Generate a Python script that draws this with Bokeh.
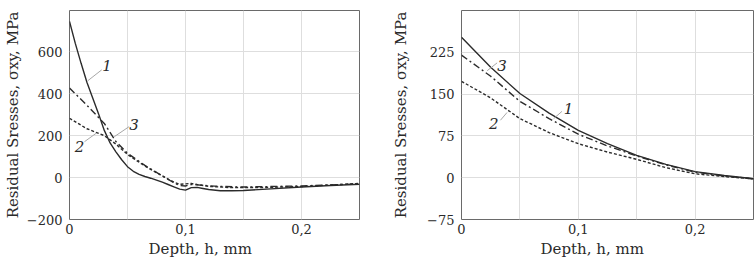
from bokeh.plotting import figure
from bokeh.layouts import row
from bokeh.models import Range1d, FixedTicker, CustomJSTickFormatter, Title
from bokeh.core.properties import value
from bokeh.embed import file_html
from bokeh.resources import INLINE

FONT = "DejaVu Serif"

# ---------------- data: left panel ----------------
L_h1 = [0, 0.005, 0.01, 0.015, 0.02, 0.025, 0.03, 0.035, 0.04, 0.045, 0.05, 0.055, 0.06, 0.065,
        0.07, 0.075, 0.08, 0.085, 0.09, 0.095, 0.1, 0.105, 0.11, 0.115, 0.12, 0.13, 0.14, 0.15,
        0.17, 0.2, 0.225, 0.25]
L_s1 = [745, 640, 545, 455, 380, 305, 225, 165, 123, 85, 52, 30, 15, 5,
        -3, -12, -22, -33, -44, -55, -60, -48, -47, -52, -57, -63, -63, -62,
        -55, -45, -38, -32]
L_h2 = [0, 0.015, 0.03, 0.04, 0.05, 0.065, 0.08, 0.09, 0.095, 0.1, 0.105, 0.11, 0.12, 0.14,
        0.17, 0.2, 0.25]
L_s2 = [283, 233, 200, 160, 110, 55, 8, -22, -32, -30, -28, -33, -42, -48, -47, -43, -28]
L_h3 = [0, 0.015, 0.03, 0.04, 0.05, 0.065, 0.08, 0.09, 0.095, 0.1, 0.105, 0.11, 0.125, 0.15,
        0.2, 0.25]
L_s3 = [427, 345, 258, 172, 116, 58, 8, -25, -38, -40, -33, -35, -41, -45, -40, -30]

# ---------------- data: right panel ----------------
R_h = [0, 0.025, 0.05, 0.075, 0.1, 0.125, 0.15, 0.175, 0.2, 0.225, 0.25]
R_s1 = [252, 198, 151, 116, 85, 61, 40, 24, 11, 4, -2]
R_s2 = [173, 143, 106, 81, 61, 46, 33, 18, 7, 2, -2]
R_s3 = [220, 182, 137, 106, 78, 57, 39, 23, 10, 3, -2]

x_ticks = [0, 0.1, 0.2]
x_grid = [0.05, 0.1, 0.15, 0.2]
L_y_ticks = [-200, 0, 200, 400, 600]
L_y_grid = [0, 200, 400, 600]
R_y_ticks = [-75, 0, 75, 150, 225]
R_y_grid = [0, 75, 150, 225]

curve_labels = ["1", "2", "3"]
# label anchors and leader lines (data coordinates)
L_lab_h = [0.0323, 0.0086, 0.0557]
L_lab_v = [533, 147, 251]
L_lead = [(0.0158, 462, 0.0278, 514), (0.0129, 171, 0.0229, 211), (0.0514, 243, 0.0386, 195)]
R_lab_h = [0.0917, 0.0276, 0.0348]
R_lab_v = [124, 97, 201]
R_lead = [(0.086, 119, 0.0789, 106), (0.0333, 103, 0.039, 117), (0.0305, 206, 0.022, 192)]

y_label = "Residual Sresses, \u03c3xy, MPa"
x_label = "Depth, h, mm"

CURVE = "#2b2b2b"
TXT = "#2a2a2a"


def make_panel(width, bl, br, yr, yticks, ygrid, series, lab_h, lab_v, leads,
               xlab_offset, ylab_standoff):
    p = figure(width=width, height=264, output_backend="svg", toolbar_location=None,
               x_range=Range1d(0, 0.25), y_range=Range1d(*yr),
               min_border_left=bl, min_border_right=br, min_border_top=10, min_border_bottom=45)
    p.background_fill_color = "white"
    p.border_fill_color = "white"
    p.outline_line_color = "#6a6a6a"
    p.outline_line_width = 1

    for ax in (p.xaxis[0], p.yaxis[0]):
        ax.axis_line_color = None
        ax.major_tick_line_color = None
        ax.minor_tick_line_color = None
        ax.major_tick_out = 0
        ax.major_tick_in = 0
        ax.major_label_text_font = FONT
        ax.major_label_text_font_size = "13px"
        ax.major_label_text_color = TXT
    p.xaxis.ticker = FixedTicker(ticks=x_ticks)
    p.yaxis.ticker = FixedTicker(ticks=yticks)
    p.xaxis.formatter = CustomJSTickFormatter(
        code="return tick == 0 ? '0' : tick.toFixed(1).replace('.', ',');")
    p.yaxis.formatter = CustomJSTickFormatter(
        code="return tick < 0 ? '\\u2212' + Math.abs(tick) : String(tick);")
    p.xaxis.major_label_standoff = 4
    p.yaxis.major_label_standoff = 7

    p.yaxis.axis_label = y_label
    p.yaxis.axis_label_text_font = FONT
    p.yaxis.axis_label_text_font_size = "15px"
    p.yaxis.axis_label_text_font_style = "normal"
    p.yaxis.axis_label_text_color = TXT
    p.yaxis.axis_label_standoff = ylab_standoff

    t = Title(text=x_label, align="left", offset=xlab_offset, text_font=FONT,
              text_font_size="15px", text_font_style="normal", text_color=TXT, standoff=2)
    p.add_layout(t, "below")

    p.xgrid.ticker = FixedTicker(ticks=x_grid)
    p.ygrid.ticker = FixedTicker(ticks=ygrid)
    for g in (p.xgrid[0], p.ygrid[0]):
        g.grid_line_color = "#dedede"
        g.grid_line_width = 1

    (h1, s1), (h2, s2), (h3, s3) = series
    p.line(h1, s1, line_color=CURVE, line_width=1.4)
    p.line(h2, s2, line_color=CURVE, line_width=1.4, line_dash="3 2")
    p.line(h3, s3, line_color=CURVE, line_width=1.4, line_dash="7 3 2 3")

    p.segment(x0=[l[0] for l in leads], y0=[l[1] for l in leads],
              x1=[l[2] for l in leads], y1=[l[3] for l in leads],
              line_color="#a8a8a8", line_width=1)
    p.text(x=lab_h, y=lab_v, text=curve_labels, text_font=value(FONT),
           text_font_style="italic", text_font_size="15px", text_color=TXT,
           text_align="center", text_baseline="middle")
    return p


p1 = make_panel(378, 68, 19, (-200, 797), L_y_ticks, L_y_grid,
                [(L_h1, L_s1), (L_h2, L_s2), (L_h3, L_s3)],
                L_lab_h, L_lab_v, L_lead, 79, 2)
p2 = make_panel(378, 83, 3, (-75, 300), R_y_ticks, R_y_grid,
                [(R_h, R_s1), (R_h, R_s2), (R_h, R_s3)],
                R_lab_h, R_lab_v, R_lead, 79, 14)

layout = row(p1, p2)
open("out.html", "w").write(file_html(layout, INLINE))
